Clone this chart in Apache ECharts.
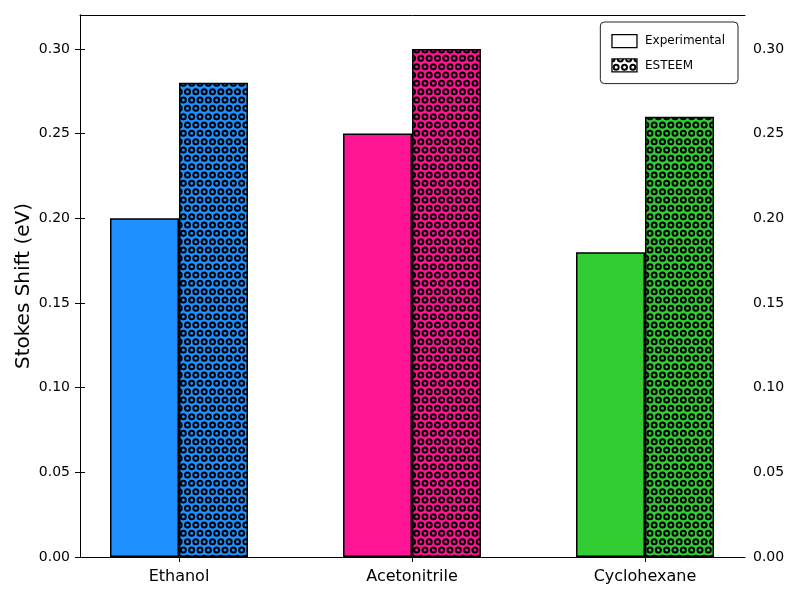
<!DOCTYPE html>
<html><head><meta charset="utf-8">
<script src="https://cdn.jsdelivr.net/npm/echarts@6/dist/echarts.min.js"></script>
<style>html,body{margin:0;padding:0;background:#fff}#c{width:800px;height:600px}</style>
</head><body><div id="c"></div>
<script>
var categories = ['Ethanol', 'Acetonitrile', 'Cyclohexane'];
var experimental = [0.20, 0.25, 0.18];
var esteem = [0.28, 0.30, 0.26];
var barColors = ['#1E90FF', '#FF1493', '#32CD32'];
var seriesNames = ['Experimental', 'ESTEEM'];
var yTicks = [0, 0.05, 0.10, 0.15, 0.20, 0.25, 0.30];

function hatch(bg) {
  var cv = document.createElement('canvas');
  var W = 25, H = 50;
  cv.width = W; cv.height = H;
  var ctx = cv.getContext('2d');
  ctx.fillStyle = bg; ctx.fillRect(0, 0, W, H);
  ctx.strokeStyle = '#000'; ctx.lineWidth = 2;
  var s = 25 / 3;
  for (var r = -1; r <= 7; r++) {
    var y = r * s;
    var off = (Math.abs(r) % 2 === 0) ? 0 : s / 2;
    for (var k = -1; k <= 4; k++) {
      var x = off + k * s;
      ctx.beginPath(); ctx.arc(x, y, 2.5, 0, Math.PI * 2); ctx.stroke();
    }
  }
  return {image: cv, repeat: 'repeat'};
}

var chart = echarts.init(document.getElementById('c'));
var font = 'DejaVu Sans';
var gTop = 15, gBottom = 43;
function fmt(v) { return v.toFixed(2); }
chart.setOption({
  animation: false,
  textStyle: {fontFamily: font},
  legend: {
    right: 62, top: 22, orient: 'vertical', itemWidth: 25, itemHeight: 13, itemGap: 10,
    padding: [12, 13, 11, 11], borderColor: '#222', borderWidth: 1, borderRadius: 4,
    textStyle: {fontSize: 12, color: '#000', fontFamily: font, padding: [0, 0, 0, 3]},
    data: [
      {name: seriesNames[0], icon: 'rect', itemStyle: {color: '#fff', borderColor: '#000', borderWidth: 1.3}},
      {name: seriesNames[1], icon: 'rect', itemStyle: {color: hatch('#fff'), borderColor: '#000', borderWidth: 1.3}}
    ]
  },
  grid: [
    {left: 80, right: 55, top: gTop, bottom: gBottom},
    {left: 62.5, right: 38.5, top: gTop, bottom: gBottom}
  ],
  xAxis: [
    {gridIndex: 0, type: 'value', min: 0, max: 1, position: 'bottom',
     axisLine: {show: true, onZero: false, lineStyle: {color: '#000', width: 1}},
     axisTick: {show: false}, axisLabel: {show: false}, splitLine: {show: false}},
    {gridIndex: 0, type: 'value', min: 0, max: 1, position: 'top',
     axisLine: {show: true, onZero: false, lineStyle: {color: '#000', width: 1}},
     axisTick: {show: false}, axisLabel: {show: false}, splitLine: {show: false}},
    {gridIndex: 1, type: 'category', data: categories, position: 'bottom',
     axisLine: {show: false},
     axisTick: {show: true, alignWithLabel: true, length: 5, lineStyle: {color: '#000'}},
     axisLabel: {fontSize: 16, color: '#000', margin: 12, fontFamily: font}}
  ],
  yAxis: [
    {gridIndex: 0, type: 'value', min: 0, max: 0.32, position: 'left',
     name: 'Stokes Shift (eV)', nameLocation: 'middle', nameGap: 46, nameMoveOverlap: false,
     nameTextStyle: {fontSize: 20, color: '#000', fontFamily: font},
     axisLine: {show: true, lineStyle: {color: '#000'}},
     axisTick: {show: true, length: 5, customValues: yTicks, lineStyle: {color: '#000'}},
     axisLabel: {fontSize: 14, color: '#000', margin: 10, customValues: yTicks, formatter: fmt},
     splitLine: {show: false}},
    {gridIndex: 0, type: 'value', min: 0, max: 0.32, position: 'right',
     axisLine: {show: true, lineStyle: {color: '#000'}},
     axisTick: {show: true, length: 5, customValues: yTicks, lineStyle: {color: '#000'}},
     axisLabel: {fontSize: 14, color: '#000', margin: 8, customValues: yTicks, formatter: fmt},
     splitLine: {show: false}},
    {gridIndex: 1, type: 'value', min: 0, max: 0.32, show: false}
  ],
  series: [
    {name: seriesNames[0], type: 'bar', xAxisIndex: 2, yAxisIndex: 2, barWidth: 69, barGap: '0%',
     itemStyle: {color: '#fff', borderColor: '#000', borderWidth: 1.5},
     data: experimental.map(function (v, i) { return {value: v, itemStyle: {color: barColors[i]}}; })},
    {name: seriesNames[1], type: 'bar', xAxisIndex: 2, yAxisIndex: 2, barWidth: 69, barGap: '0%',
     itemStyle: {color: hatch('#fff'), borderColor: '#000', borderWidth: 1.5},
     data: esteem.map(function (v, i) { return {value: v, itemStyle: {color: hatch(barColors[i])}}; })}
  ]
});
</script></body></html>
